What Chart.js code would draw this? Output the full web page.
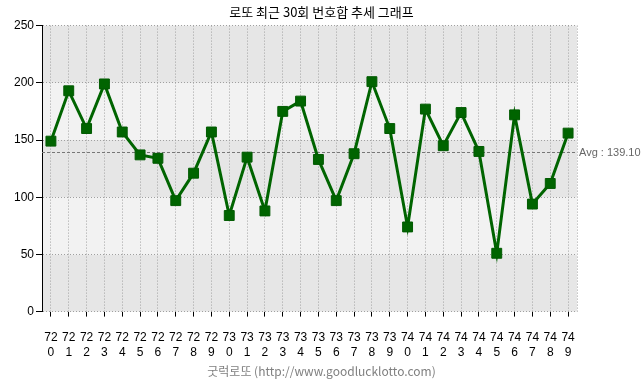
<!DOCTYPE html>
<html>
<head>
<meta charset="utf-8">
<script src="https://cdn.jsdelivr.net/npm/chart.js@4/dist/chart.umd.min.js"></script>
<style>
  html, body { margin: 0; padding: 0; background: #fff; }
  #wrap { width: 643px; height: 382px; }
</style>
</head>
<body>
<div id="wrap"><canvas id="sumChart" width="643" height="382"></canvas></div>
<script>
/* ========= DATA ========= */
const TITLE = "로또 최근 30회 번호합 추세 그래프";
const FOOTER = "굿럭로또 (http://www.goodlucklotto.com)";
const draws = [
  "720", "721", "722", "723", "724", "725", "726", "727", "728", "729",
  "730", "731", "732", "733", "734", "735", "736", "737", "738", "739",
  "740", "741", "742", "743", "744", "745", "746", "747", "748", "749"
];
const sums = [
  149, 193, 160, 199, 157, 137, 134, 97, 121, 157,
  84, 135, 88, 175, 184, 133, 97, 138, 201, 160,
  74, 177, 145, 174, 140, 51, 172, 94, 112, 156
];
const AVG = 139.10;
const Y_MIN = 0, Y_MAX = 250, Y_STEP = 50;

const GREEN = "#006400";
const NUM_FONT = "'Liberation Sans', Arial, sans-serif";
const KR_FONT = "'Noto Sans CJK KR', 'Noto Sans', sans-serif";

/* ========= PLUGINS ========= */
// alternating horizontal bands behind the grid
const bands = {
  id: "bands",
  beforeDraw(chart) {
    const { ctx, chartArea: a, scales: { y } } = chart;
    ctx.save();
    for (let v = Y_MIN, i = 0; v < Y_MAX; v += Y_STEP, i++) {
      const top = y.getPixelForValue(v + Y_STEP);
      const bot = y.getPixelForValue(v);
      ctx.fillStyle = i % 2 === 0 ? "#e6e6e6" : "#f2f2f2";
      ctx.fillRect(a.left, top, a.right - a.left, bot - top);
    }
    ctx.restore();
  }
};

// average line + right edge
const avgLine = {
  id: "avgLine",
  beforeDatasetsDraw(chart) {
    const { ctx, chartArea: a, scales: { y } } = chart;
    const py = Math.round(y.getPixelForValue(AVG)) + 0.5;
    ctx.save();
    ctx.lineWidth = 1;
    // dotted right edge
    ctx.strokeStyle = "#a0a0a0";
    ctx.setLineDash([1, 2]);
    ctx.beginPath();
    ctx.moveTo(Math.round(a.right) + 0.5, a.top);
    ctx.lineTo(Math.round(a.right) + 0.5, a.bottom);
    ctx.stroke();
    // avg
    ctx.strokeStyle = "#777";
    ctx.setLineDash([3, 2]);
    ctx.beginPath();
    ctx.moveTo(a.left, py);
    ctx.lineTo(a.right, py);
    ctx.stroke();
    ctx.setLineDash([]);
    ctx.fillStyle = "#666";
    ctx.font = "11px " + NUM_FONT;
    ctx.textBaseline = "middle";
    ctx.textAlign = "left";
    ctx.fillText("Avg : " + AVG.toFixed(2), a.right + 2, py);
    ctx.restore();
  }
};

/* ========= CHART ========= */
const chart = new Chart(document.getElementById("sumChart"), {
  type: "line",
  data: {
    labels: draws,
    datasets: [{
      data: sums,
      borderColor: GREEN,
      borderWidth: 3,
      tension: 0,
      pointStyle: "rect",
      pointRadius: 7,
      pointHoverRadius: 7,
      pointBackgroundColor: GREEN,
      pointBorderColor: "#005a00",
      pointBorderWidth: 1
    }]
  },
  options: {
    responsive: false,
    animation: false,
    devicePixelRatio: 1,
    layout: { padding: 0 },
    plugins: {
      legend: { display: false },
      tooltip: { enabled: false },
      title: {
        display: true,
        text: TITLE,
        color: "#000",
        font: { family: KR_FONT, size: 13, weight: "normal" },
        padding: { top: 4, bottom: 6 }
      },
      subtitle: {
        display: true,
        position: "bottom",
        text: FOOTER,
        color: "#808080",
        font: { family: KR_FONT, size: 12, weight: "normal" },
        padding: { top: 3, bottom: 3 }
      }
    },
    scales: {
      x: {
        offset: true,
        grid: {
          offset: false,
          color: "#a0a0a0",
          tickColor: "#000",
          tickLength: 5,
          tickBorderDash: [0, 0]
        },
        border: { display: false, dash: [1, 2] },
        ticks: {
          color: "#000",
          font: { family: NUM_FONT, size: 12 },
          padding: 14,
          maxRotation: 0,
          autoSkip: false,
          callback: (v, i) => [draws[i].slice(0, 2), draws[i].slice(2)]
        },
        afterFit(scale) { scale.height = 50; }
      },
      y: {
        min: Y_MIN,
        max: Y_MAX,
        grid: {
          color: "#a0a0a0",
          tickColor: "#000",
          tickLength: 6,
          tickBorderDash: [0, 0]
        },
        border: { display: true, color: "#000", width: 1, dash: [1, 2] },
        ticks: {
          stepSize: Y_STEP,
          color: "#000",
          font: { family: NUM_FONT, size: 12 },
          padding: 2
        },
        afterFit(scale) { scale.width = 42; }
      },
      side: {
        position: "right",
        display: true,
        grid: { display: false },
        border: { display: false },
        ticks: { display: false },
        afterFit(scale) { scale.width = 66; }
      }
    }
  },
  plugins: [bands, avgLine]
});
</script>
</body>
</html>
